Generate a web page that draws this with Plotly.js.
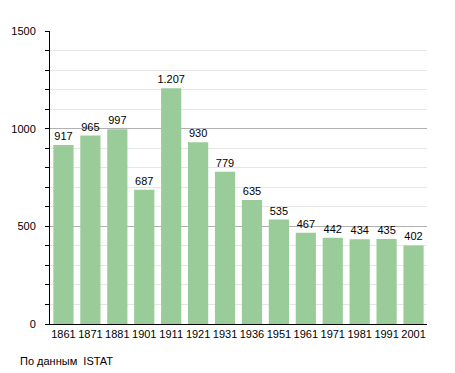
<!DOCTYPE html>
<html><head><meta charset="utf-8">
<script src="https://cdn.plot.ly/plotly-3.0.1.min.js"></script>
<style>body{margin:0;padding:0;background:#fff}#chart{width:455px;height:373px}</style>
</head><body><div id="chart"></div>
<script>
const years = ["1861","1871","1881","1901","1911","1921","1931","1936","1951","1961","1971","1981","1991","2001"];
const population = [917,965,997,687,1207,930,779,635,535,467,442,434,435,402];
const valueLabels = ["917","965","997","687","1.207","930","779","635","535","467","442","434","435","402"];
const yTicks = [0,500,1000,1500];
const sourceNote = "По данным  ISTAT";

const font = {family: "Liberation Sans, Arial, sans-serif", size: 11, color: "#000"};
Plotly.newPlot("chart", [{
  type: "bar",
  x: years,
  y: population,
  text: valueLabels,
  textposition: "outside",
  constraintext: "none",
  cliponaxis: false,
  textfont: font,
  marker: {color: "#99cc99"},
  hoverinfo: "none"
}], {
  width: 455, height: 373,
  margin: {l: 50, r: 28, t: 31, b: 49},
  paper_bgcolor: "#fff", plot_bgcolor: "#fff",
  bargap: 0.25,
  showlegend: false,
  font: font,
  xaxis: {
    type: "category",
    showline: true, linecolor: "#000", linewidth: 1,
    ticks: "", showgrid: false, tickfont: font, automargin: false
  },
  yaxis: {
    range: [0, 1500],
    tickvals: yTicks,
    ticks: "outside", ticklen: 4, tickcolor: "#000",
    showline: true, linecolor: "#000", linewidth: 1,
    showgrid: true, gridcolor: "#b0b0b0", gridwidth: 1,
    zeroline: false,
    tickfont: font,
    ticklabelstandoff: 7,
    minor: {dtick: 100, ticks: "outside", ticklen: 4, tickcolor: "#000", showgrid: true, gridcolor: "#e6e6e6"},
    automargin: false
  },
  annotations: [{
    text: sourceNote, xref: "paper", yref: "paper", x: -0.085, y: -0.10,
    xanchor: "left", yanchor: "top", showarrow: false, font: font
  }]
}, {displayModeBar: false, staticPlot: true});
</script></body></html>
